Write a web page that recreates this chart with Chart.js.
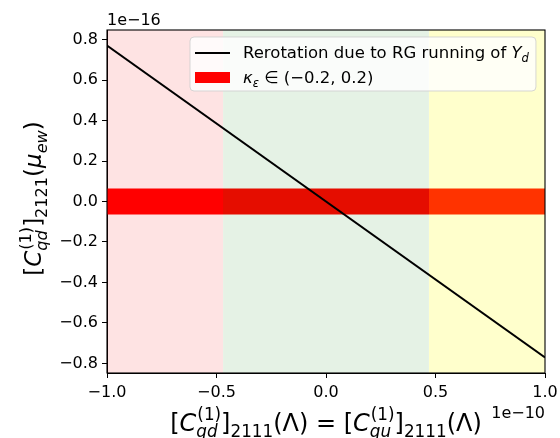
<!DOCTYPE html>
<html>
<head>
<meta charset="utf-8">
<script src="https://cdn.jsdelivr.net/npm/chart.js@4.4.1/dist/chart.umd.min.js"></script>
<style>
  html, body { margin: 0; padding: 0; background: #fff; }
  #wrap { width: 560px; height: 438px; }
</style>
</head>
<body>
<div id="wrap"><canvas id="chart" width="560" height="438"></canvas></div>
<script>
// values in units of the axis offsets (x: 1e-10, y: 1e-16)
const xLim = [-1.0, 1.0];
const yLim = [-0.847, 0.847];
const xTicks = [-1.0, -0.5, 0.0, 0.5, 1.0];
const yTicks = [-0.8, -0.6, -0.4, -0.2, 0.0, 0.2, 0.4, 0.6, 0.8];
const lineX = [-1.0, 1.0];
const lineY = [0.77, -0.77];
const regionEdges = [-1.0, -0.47, 0.47, 1.0];
const bandY = [-0.064, 0.064];
const xOffsetText = '1e\u221210';
const yOffsetText = '1e\u221216';
const seriesLabels = ['Rerotation due to RG running of Y_d', '\u03ba_\u03b5 \u2208 (\u22120.2, 0.2)'];

const FONT = 'DejaVu Sans';
const regionColors = ['rgba(245,0,0,0.11)', 'rgba(0,128,0,0.1)', 'rgba(255,255,0,0.2)'];

// small mathtext-like pieces: T(text, italic, level) level -1 = sub, 1 = sup
const T = (t, it, lv) => ({ t: t, it: !!it, lv: lv || 0 });
const ST = (sup, sub) => ({ stack: true, sup: { t: sup, it: false }, sub: { t: sub, it: true } });

const yTitle = [T('['), T('C', 1), ST('(1)', 'qd'), T(']'), T('2121', 0, -1), T('('), T('\u03bc', 1), T('ew', 1, -1), T(')')];
const xTitle = [T('['), T('C', 1), ST('(1)', 'qd'), T(']'), T('2111', 0, -1), T('(\u039b)'), T(' = '),
                T('['), T('C', 1), ST('(1)', 'qu'), T(']'), T('2111', 0, -1), T('(\u039b)')];
const legendRich = [
  [T('Rerotation due to RG running of '), T('Y', 1), T('d', 1, -1)],
  [T('\u03ba', 1), T('\u03b5', 1, -1), T(' \u2208 (\u22120.2, 0.2)')]
];

function font(size, it) { return (it ? 'italic ' : '') + size + 'px "' + FONT + '"'; }

function layoutRich(ctx, parts, size) {
  let x = 0;
  const ops = [];
  const s = size * 0.7;
  parts.forEach(p => {
    if (p.stack) {
      ctx.font = font(s, p.sup.it);
      const w1 = ctx.measureText(p.sup.t).width;
      ctx.font = font(s, p.sub.it);
      const w2 = ctx.measureText(p.sub.t).width;
      ops.push({ t: p.sup.t, it: p.sup.it, s: s, x: x + 1, dy: -0.45 * size });
      ops.push({ t: p.sub.t, it: p.sub.it, s: s, x: x, dy: 0.25 * size });
      x += Math.max(w1 + 1, w2);
    } else {
      const sz = p.lv ? s : size;
      const dy = p.lv === -1 ? 0.25 * size : (p.lv === 1 ? -0.45 * size : 0);
      ctx.font = font(sz, p.it);
      ops.push({ t: p.t, it: p.it, s: sz, x: x, dy: dy });
      x += ctx.measureText(p.t).width;
    }
  });
  return { ops: ops, w: x };
}

function drawRich(ctx, parts, size, x, y, align) {
  const L = layoutRich(ctx, parts, size);
  const x0 = align === 'center' ? x - L.w / 2 : (align === 'right' ? x - L.w : x);
  ctx.textAlign = 'left';
  ctx.textBaseline = 'alphabetic';
  ctx.fillStyle = '#000';
  L.ops.forEach(o => {
    ctx.font = font(o.s, o.it);
    ctx.fillText(o.t, x0 + o.x, y + o.dy);
  });
  return L.w;
}

function fmt(v) {
  const s = (Math.abs(v) < 1e-9 ? 0 : v).toFixed(1);
  return s.replace('-', '\u2212');
}

function rect(x0, x1, yTop) {
  return [{ x: x0, y: yTop }, { x: x1, y: yTop }];
}

const decor = {
  id: 'decor',
  afterDraw(chart) {
    const ctx = chart.ctx;
    const a = chart.chartArea;
    ctx.save();

    // full box of spines
    ctx.strokeStyle = '#000';
    ctx.lineWidth = 1.1;
    ctx.strokeRect(a.left, a.top, a.right - a.left, a.bottom - a.top);

    // legend box
    const lf = 16.5;
    const w0 = layoutRich(ctx, legendRich[0], lf).w;
    const bx = 190, by = 37, bw = 243 + w0 + 7 - bx, bh = 54, r = 4;
    ctx.beginPath();
    ctx.roundRect(bx, by, bw, bh, r);
    ctx.fillStyle = 'rgba(255,255,255,0.8)';
    ctx.fill();
    ctx.strokeStyle = 'rgba(204,204,204,0.8)';
    ctx.lineWidth = 1;
    ctx.stroke();

    // legend handles
    ctx.beginPath();
    ctx.moveTo(195, 53);
    ctx.lineTo(230, 53);
    ctx.strokeStyle = chart.data.datasets[0].borderColor;
    ctx.lineWidth = 2;
    ctx.stroke();
    ctx.fillStyle = chart.data.datasets[3].backgroundColor;
    ctx.fillRect(195, 72, 35, 11);
    drawRich(ctx, legendRich[0], lf, 243, 58, 'left');
    drawRich(ctx, legendRich[1], lf, 243, 83, 'left');

    // offset texts
    ctx.font = font(16, false);
    ctx.fillStyle = '#000';
    ctx.textBaseline = 'alphabetic';
    ctx.textAlign = 'left';
    ctx.fillText(yOffsetText, a.left, 25);
    ctx.textAlign = 'right';
    ctx.fillText(xOffsetText, a.right, 418);

    // axis titles
    drawRich(ctx, xTitle, 24, (a.left + a.right) / 2, 431, 'center');
    ctx.translate(41, (a.top + a.bottom) / 2 - 3);
    ctx.rotate(-Math.PI / 2);
    drawRich(ctx, yTitle, 23, 0, 0, 'center');

    ctx.restore();
  }
};

const tickFont = { family: FONT, size: 16 };

new Chart(document.getElementById('chart'), {
  type: 'line',
  data: {
    datasets: [
      {
        label: seriesLabels[0],
        data: lineX.map((x, i) => ({ x: x, y: lineY[i] })),
        borderColor: '#000000',
        borderWidth: 2,
        pointRadius: 0,
        fill: false,
        order: 0
      },
      {
        label: 'region 3',
        data: rect(regionEdges[2], regionEdges[3], yLim[1]),
        backgroundColor: regionColors[2],
        borderColor: 'transparent',
        borderWidth: 0,
        pointRadius: 0,
        fill: 'start',
        order: 1
      },
      {
        label: 'region 2',
        data: rect(regionEdges[1], regionEdges[2], yLim[1]),
        backgroundColor: regionColors[1],
        borderColor: 'transparent',
        borderWidth: 0,
        pointRadius: 0,
        fill: 'start',
        order: 2
      },
      {
        label: seriesLabels[1],
        data: rect(xLim[0], xLim[1], bandY[1]),
        backgroundColor: '#ff0000',
        borderColor: 'transparent',
        borderWidth: 0,
        pointRadius: 0,
        fill: { value: bandY[0] },
        order: 3
      },
      {
        label: 'region 1',
        data: rect(regionEdges[0], regionEdges[1], yLim[1]),
        backgroundColor: regionColors[0],
        borderColor: 'transparent',
        borderWidth: 0,
        pointRadius: 0,
        fill: 'start',
        order: 4
      }
    ]
  },
  options: {
    responsive: false,
    devicePixelRatio: 1,
    animation: false,
    layout: { padding: { top: 30, right: 15, left: 0, bottom: 0 } },
    plugins: {
      legend: { display: false },
      tooltip: { enabled: false }
    },
    scales: {
      x: {
        type: 'linear',
        min: xLim[0],
        max: xLim[1],
        afterBuildTicks: s => { s.ticks = xTicks.map(v => ({ value: v })); },
        afterFit: s => { s.height = 65; s.paddingRight = 0; s.paddingLeft = 0; },
        ticks: { font: tickFont, color: '#000', padding: 5, maxRotation: 0, callback: v => fmt(v) },
        grid: { drawOnChartArea: false, drawTicks: true, tickLength: 5, tickColor: '#000', tickWidth: 1 },
        border: { display: true, color: '#000', width: 1 }
      },
      y: {
        type: 'linear',
        min: yLim[0],
        max: yLim[1],
        afterBuildTicks: s => { s.ticks = yTicks.map(v => ({ value: v })); },
        afterFit: s => { s.width = 107; s.paddingTop = 0; s.paddingBottom = 0; },
        ticks: { font: tickFont, color: '#000', padding: 4, callback: v => fmt(v) },
        grid: { drawOnChartArea: false, drawTicks: true, tickLength: 5, tickColor: '#000', tickWidth: 1 },
        border: { display: true, color: '#000', width: 1 }
      }
    }
  },
  plugins: [decor]
});
</script>
</body>
</html>
